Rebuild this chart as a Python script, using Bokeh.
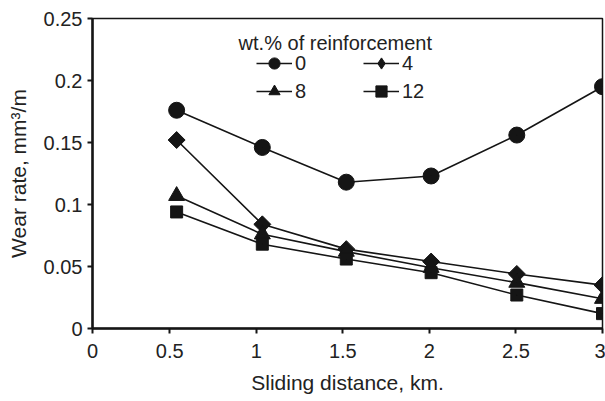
import numpy as np
from bokeh.plotting import figure
from bokeh.models import Legend, LegendItem, Label, FixedTicker, Range1d
from bokeh.embed import file_html
from bokeh.resources import INLINE

distance = [0.54, 1.035, 1.52, 2.01, 2.505, 3.0]
wear_0 = [0.176, 0.146, 0.118, 0.123, 0.156, 0.195]
wear_4 = [0.152, 0.084, 0.064, 0.054, 0.044, 0.035]
wear_8 = [0.107, 0.076, 0.062, 0.049, 0.037, 0.024]
wear_12 = [0.094, 0.068, 0.056, 0.045, 0.027, 0.012]
series_labels = ["0", "4", "8", "12"]
x_ticks = [0.054, 0.5, 1, 1.5, 2, 2.5, 3]
y_ticks = [0, 0.05, 0.1, 0.15, 0.2, 0.25]

FONT = "Liberation Sans"
INK = "#151515"
TXT = "#222222"

p = figure(width=605, height=401, output_backend="svg", toolbar_location=None,
           x_range=Range1d(0.054, 3.0), y_range=Range1d(0, 0.25),
           min_border_left=92, min_border_right=3, min_border_top=18, min_border_bottom=73)
p.grid.visible = False
p.outline_line_color = INK
p.outline_line_width = 1.5
p.background_fill_color = "white"
p.border_fill_color = "white"

for ax in (p.xaxis[0], p.yaxis[0]):
    ax.axis_line_color = INK
    ax.axis_line_width = 2.5
    ax.major_tick_line_color = INK
    ax.major_tick_line_width = 2
    ax.major_tick_out = 5
    ax.major_tick_in = 0
    ax.minor_tick_line_color = None
    ax.major_label_text_font = FONT
    ax.major_label_text_font_size = "20px"
    ax.major_label_text_color = TXT
    ax.axis_label_text_font = FONT
    ax.axis_label_text_font_size = "21px"
    ax.axis_label_text_font_style = "normal"
    ax.axis_label_text_color = TXT

p.xaxis.ticker = FixedTicker(ticks=x_ticks)
p.xaxis.major_label_overrides = {0.054: "0", 0.5: "0.5", 1: "1", 1.5: "1.5", 2: "2", 2.5: "2.5", 3: "3"}
p.yaxis.ticker = FixedTicker(ticks=y_ticks)
p.yaxis.major_label_overrides = {0: "0", 0.05: "0.05", 0.1: "0.1", 0.15: "0.15", 0.2: "0.2", 0.25: "0.25"}
p.xaxis.axis_label = "Sliding distance, km."
p.yaxis.axis_label = "Wear rate, mm\u00b3/m"
p.xaxis.major_label_standoff = 10
p.xaxis.axis_label_standoff = 10
p.yaxis.major_label_standoff = 5
p.yaxis.axis_label_standoff = 11

specs = [
    (wear_0, dict(marker="circle", size=16, angle=0), "circle"),
    (wear_4, dict(marker="square", size=12, angle=np.pi / 4), "diamond"),
    (wear_8, dict(marker="triangle", size=16, angle=0), "triangle"),
    (wear_12, dict(marker="square", size=12, angle=0), "square"),
]
items = {}
for lab, (vals, m, legend_marker) in zip(series_labels, specs):
    l = p.line(distance, vals, line_color=INK, line_width=1.6)
    p.scatter(distance, vals, fill_color=INK, line_color=INK, **m)
    # marker used only for the legend sample (drawn with zero size in the plot)
    lm = p.scatter(distance, vals, marker=legend_marker, size=0.01,
                   fill_color=INK, line_color=INK)
    items[lab] = LegendItem(label=lab, renderers=[l, lm])

# column-major fill: column 1 = 0, 8 ; column 2 = 4, 12
order = ["0", "8", "4", "12"]
legend = Legend(items=[items[k] for k in order], ncols=2, location=(164, 223),
                glyph_width=36, glyph_height=28, label_standoff=3,
                label_width=68, spacing=0, padding=0, margin=0,
                border_line_color=None, background_fill_alpha=0,
                label_text_font=FONT, label_text_font_size="20px",
                label_text_color=TXT, label_height=28)
p.add_layout(legend, "center")

title = Label(x=0.898, y=0.2305, text="wt.% of reinforcement",
              text_font=FONT, text_font_size="20px", text_color=TXT,
              text_baseline="middle", text_align="left")
p.add_layout(title)

open("out.html", "w").write(file_html(p, INLINE))
